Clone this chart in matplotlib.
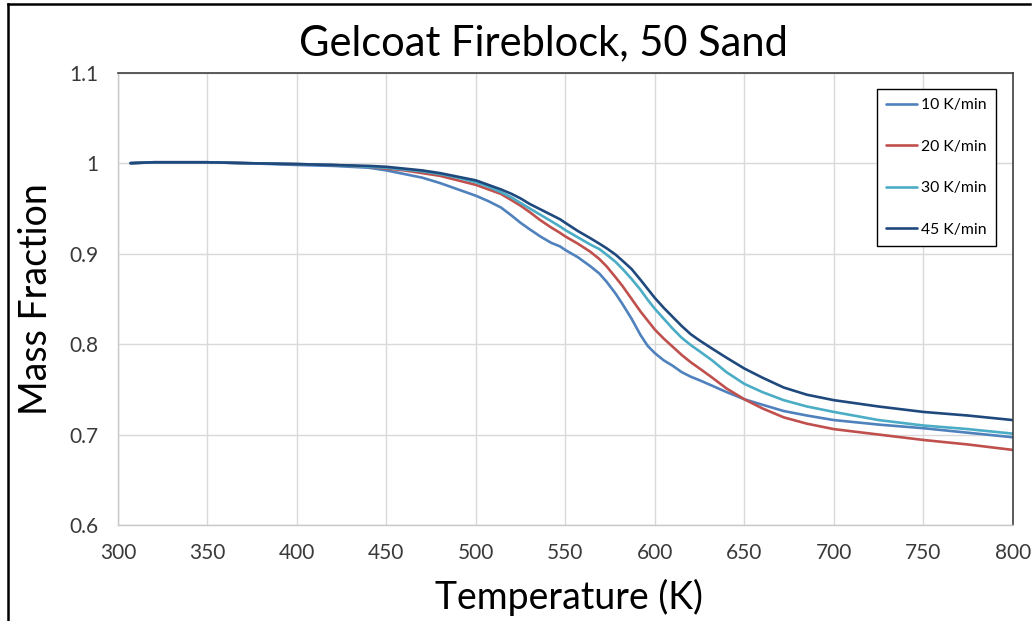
import matplotlib
matplotlib.use("Agg")
import matplotlib.pyplot as plt
from matplotlib.lines import Line2D

plt.rcParams['font.family'] = ['Lato', 'DejaVu Sans']

# ---- data ----
temperature = [307, 320, 350, 372, 400, 420, 440, 450, 460, 470, 480, 490, 500,
               507, 514, 520, 525, 530, 536, 542, 547, 550, 557, 564, 569, 573,
               578, 582, 587, 592, 596, 600, 605, 610, 615, 620, 625, 632, 640,
               650, 660, 672, 685, 700, 725, 750, 775, 800]

mass_10 = [1.000, 1.001, 1.001, 1.000, 0.998, 0.997, 0.995, 0.992, 0.988, 0.984,
           0.978, 0.971, 0.964, 0.958, 0.951, 0.942, 0.934, 0.927, 0.919, 0.912,
           0.908, 0.904, 0.896, 0.886, 0.878, 0.869, 0.856, 0.844, 0.828, 0.810,
           0.798, 0.790, 0.782, 0.776, 0.769, 0.764, 0.760, 0.754, 0.747, 0.739,
           0.733, 0.726, 0.721, 0.716, 0.711, 0.707, 0.702, 0.697]

mass_20 = [1.000, 1.001, 1.001, 1.000, 0.999, 0.998, 0.996, 0.994, 0.992, 0.989,
           0.986, 0.981, 0.976, 0.971, 0.966, 0.959, 0.953, 0.946, 0.937, 0.929,
           0.923, 0.919, 0.911, 0.902, 0.894, 0.886, 0.874, 0.864, 0.850, 0.836,
           0.826, 0.816, 0.806, 0.797, 0.788, 0.780, 0.773, 0.763, 0.751, 0.739,
           0.729, 0.719, 0.712, 0.706, 0.700, 0.694, 0.689, 0.683]

mass_30 = [1.000, 1.001, 1.001, 1.000, 0.999, 0.998, 0.996, 0.995, 0.993, 0.991,
           0.988, 0.984, 0.979, 0.974, 0.968, 0.962, 0.956, 0.950, 0.943, 0.936,
           0.930, 0.926, 0.918, 0.910, 0.905, 0.899, 0.891, 0.883, 0.872, 0.860,
           0.849, 0.839, 0.828, 0.817, 0.807, 0.799, 0.792, 0.782, 0.769, 0.756,
           0.747, 0.738, 0.731, 0.725, 0.716, 0.710, 0.706, 0.701]

mass_45 = [1.000, 1.001, 1.001, 1.000, 0.999, 0.998, 0.997, 0.996, 0.994, 0.992,
           0.989, 0.985, 0.981, 0.976, 0.971, 0.966, 0.961, 0.955, 0.949, 0.943,
           0.938, 0.934, 0.925, 0.917, 0.911, 0.906, 0.899, 0.892, 0.883, 0.871,
           0.861, 0.851, 0.840, 0.830, 0.820, 0.811, 0.804, 0.795, 0.785, 0.773,
           0.763, 0.752, 0.744, 0.738, 0.731, 0.725, 0.721, 0.716]

series_labels = ['10 K/min', '20 K/min', '30 K/min', '45 K/min']
series_colors = ['#4F81BD', '#C0504D', '#4BACC6', '#1F497D']

x_ticks = [300, 350, 400, 450, 500, 550, 600, 650, 700, 750, 800]
y_ticks = [0.6, 0.7, 0.8, 0.9, 1.0, 1.1]
y_tick_labels = ['0.6', '0.7', '0.8', '0.9', '1', '1.1']

title = 'Gelcoat Fireblock, 50 Sand'
x_label = 'Temperature (K)'
y_label = 'Mass Fraction'

# ---- figure ----
fig = plt.figure(figsize=(10.33, 6.21), dpi=100)
ax = fig.add_axes([0.1142, 0.1546, 0.8662, 0.7283])

for vals, lab, col in zip([mass_10, mass_20, mass_30, mass_45],
                          series_labels, series_colors):
    ax.plot(temperature, vals, color=col, lw=1.9, label=lab,
            solid_capstyle='round', solid_joinstyle='round')

ax.set_xlim(300, 800)
ax.set_ylim(0.6, 1.1)
ax.set_xticks(x_ticks)
ax.set_yticks(y_ticks)
ax.set_yticklabels(y_tick_labels)
ax.tick_params(length=0, labelsize=15, labelcolor='#3A3A3A')
ax.tick_params(axis='y', pad=14)
ax.tick_params(axis='x', pad=13)
ax.grid(True, color='#D9D9D9', lw=1)
ax.set_axisbelow(True)

for side in ['left', 'bottom']:
    ax.spines[side].set_color('#C8C8C8')
    ax.spines[side].set_linewidth(1)
for side in ['top', 'right']:
    ax.spines[side].set_color('#404040')
    ax.spines[side].set_linewidth(1.2)

ax.set_xlabel(x_label, fontsize=27, color='black', va='center')
ax.xaxis.set_label_coords(0.504, -0.161)
ax.set_ylabel(y_label, fontsize=27, color='black', va='center')
ax.yaxis.set_label_coords(-0.092, 0.50)
fig.text(0.526, 0.930, title, fontsize=30, ha='center', va='center')

leg = ax.legend(loc='upper left', bbox_to_anchor=(0.848, 0.964),
                borderaxespad=0, fontsize=11.3, labelspacing=1.75,
                handlelength=1.95, handletextpad=0.25, borderpad=0.6,
                fancybox=False, framealpha=1, edgecolor='black')
leg.get_frame().set_linewidth(1.0)

# figure outline (left and top)
fig.add_artist(Line2D([8/1033, 8/1033], [0, 1 - 4/621], transform=fig.transFigure,
                      color='black', lw=1.8))
fig.add_artist(Line2D([8/1033, 1030/1033], [1 - 4/621, 1 - 4/621],
                      transform=fig.transFigure, color='black', lw=1.8))

fig.savefig('out.png', dpi=100)
